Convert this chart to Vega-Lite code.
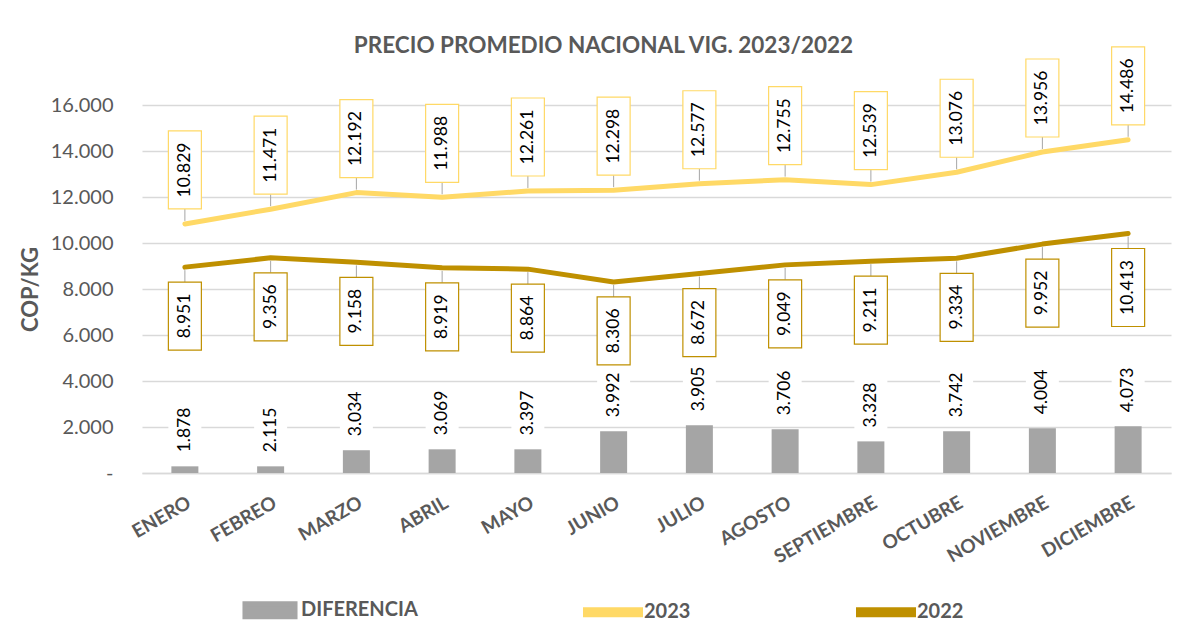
{
  "$schema": "https://vega.github.io/schema/vega-lite/v6.json",
  "autosize": {"type": "none"},
  "width": 1029,
  "height": 368,
  "padding": {"left": 142, "top": 105, "right": 23, "bottom": 151},
  "background": "white",
  "config": {
    "font": "Lato",
    "view": {"stroke": null},
    "locale": {"number": {"decimal": ",", "thousands": ".", "grouping": [3], "currency": ["$", ""]}}
  },
  "title": {
    "text": "PRECIO PROMEDIO NACIONAL VIG. 2023/2022",
    "font": "Lato",
    "fontSize": 22.5,
    "fontWeight": "bold",
    "color": "#595959",
    "anchor": "middle",
    "frame": "group",
    "dx": -53,
    "offset": -11
  },
  "data": {"values": [
    {"mes": "ENERO", "2023": 10829, "2022": 8951, "dif": 1878, "barra": 290},
    {"mes": "FEBREO", "2023": 11471, "2022": 9356, "dif": 2115, "barra": 290},
    {"mes": "MARZO", "2023": 12192, "2022": 9158, "dif": 3034, "barra": 990},
    {"mes": "ABRIL", "2023": 11988, "2022": 8919, "dif": 3069, "barra": 1030},
    {"mes": "MAYO", "2023": 12261, "2022": 8864, "dif": 3397, "barra": 1030},
    {"mes": "JUNIO", "2023": 12298, "2022": 8306, "dif": 3992, "barra": 1815},
    {"mes": "JULIO", "2023": 12577, "2022": 8672, "dif": 3905, "barra": 2075},
    {"mes": "AGOSTO", "2023": 12755, "2022": 9049, "dif": 3706, "barra": 1900},
    {"mes": "SEPTIEMBRE", "2023": 12539, "2022": 9211, "dif": 3328, "barra": 1375},
    {"mes": "OCTUBRE", "2023": 13076, "2022": 9334, "dif": 3742, "barra": 1815},
    {"mes": "NOVIEMBRE", "2023": 13956, "2022": 9952, "dif": 4004, "barra": 1945},
    {"mes": "DICIEMBRE", "2023": 14486, "2022": 10413, "dif": 4073, "barra": 2030}
  ]},
  "encoding": {
    "x": {
      "field": "mes", "type": "nominal", "sort": null,
      "scale": {"type": "band", "paddingInner": 0, "paddingOuter": 0},
      "axis": {
        "title": null,
        "labelAngle": -30,
        "labelAlign": "right",
        "labelBaseline": "top",
        "labelPadding": 20,
        "labelFont": "Lato",
        "labelFontSize": 19,
        "labelFontWeight": "bold",
        "labelColor": "#595959",
        "ticks": false,
        "domainColor": "#D9D9D9",
        "domainWidth": 1.5
      }
    }
  },
  "layer": [
    {
      "mark": {"type": "bar", "width": 27, "color": "#A5A5A5"},
      "encoding": {
        "y": {
          "field": "barra", "type": "quantitative",
          "scale": {"domain": [0, 16000], "nice": false},
          "axis": {
            "title": "COP/KG",
            "titleFont": "Lato",
            "titleFontSize": 22,
            "titleFontWeight": "bold",
            "titleColor": "#595959",
            "titlePadding": 8,
            "values": [0, 2000, 4000, 6000, 8000, 10000, 12000, 14000, 16000],
            "format": ",d",
            "labelExpr": "datum.value === 0 ? '-' : datum.label",
            "labelFont": "Lato",
            "labelFontSize": 20,
            "labelColor": "#595959",
            "labelPadding": 29,
            "ticks": false,
            "domain": false,
            "grid": true,
            "gridColor": "#D9D9D9",
            "gridWidth": 1.5
          }
        },
        "color": {"datum": "DIFERENCIA", "type": "nominal"}
      }
    },
    {
      "mark": {"type": "bar", "width": 33, "color": "white", "yOffset": -8, "y2Offset": -66},
      "encoding": {
        "y": {"field": "barra", "type": "quantitative"},
        "y2": {"field": "barra"}
      }
    },
    {
      "mark": {"type": "text", "angle": 270, "align": "left", "baseline": "middle", "yOffset": -14, "font": "Lato", "fontSize": 17.5, "color": "#000000"},
      "encoding": {
        "y": {"field": "barra", "type": "quantitative"},
        "text": {"field": "dif", "type": "quantitative", "format": ",d"}
      }
    },
    {
      "transform": [{"fold": ["2023", "2022"], "as": ["serie", "valor"]}],
      "mark": {"type": "line", "strokeWidth": 5, "strokeCap": "round", "strokeJoin": "round"},
      "encoding": {
        "y": {"field": "valor", "type": "quantitative"},
        "color": {
          "field": "serie", "type": "nominal",
          "scale": {"domain": ["DIFERENCIA", "2023", "2022"], "range": ["#A5A5A5", "#FFD966", "#BF9000"]},
          "legend": {
            "title": null,
            "orient": "none",
            "legendX": 98,
            "legendY": 475,
            "direction": "horizontal",
            "padding": 0,
            "symbolSize": 3025,
            "labelOffset": 1,
            "columnPadding": 157,
            "labelFont": "Lato",
            "labelFontSize": 20,
            "labelFontWeight": "bold",
            "labelColor": "#595959",
            "encode": {
              "symbols": {
                "update": {
                  "shape": {"signal": "datum.value === 'DIFERENCIA' ? 'M-0.91,-0.236H0.91V0.236H-0.91Z' : 'M-1,-0.09H1V0.09H-1Z'"},
                  "fill": {"signal": "datum.value === 'DIFERENCIA' ? '#A5A5A5' : (datum.value === '2023' ? '#FFD966' : '#BF9000')"},
                  "stroke": {"value": "transparent"},
                  "strokeWidth": {"value": 5},
                  "size": {"value": 3025},
                  "opacity": {"value": 1}
                }
              }
            }
          }
        }
      }
    },
    {
      "mark": {"type": "rule", "color": "#A6A6A6", "strokeWidth": 1, "yOffset": -3, "y2Offset": -15},
      "encoding": {
        "y": {"field": "2023", "type": "quantitative"},
        "y2": {"field": "2023"}
      }
    },
    {
      "mark": {"type": "rule", "color": "#A6A6A6", "strokeWidth": 1, "yOffset": 3, "y2Offset": 15},
      "encoding": {
        "y": {"field": "2022", "type": "quantitative"},
        "y2": {"field": "2022"}
      }
    },
    {
      "mark": {"type": "bar", "width": 33, "fill": "white", "stroke": "#FFD966", "strokeWidth": 1.2, "yOffset": -15, "y2Offset": -93},
      "encoding": {
        "y": {"field": "2023", "type": "quantitative"},
        "y2": {"field": "2023"}
      }
    },
    {
      "transform": [{"filter": "datum['2022'] < 10000"}],
      "mark": {"type": "bar", "width": 33, "fill": "white", "stroke": "#BF9000", "strokeWidth": 1.2, "yOffset": 15, "y2Offset": 83},
      "encoding": {
        "y": {"field": "2022", "type": "quantitative"},
        "y2": {"field": "2022"}
      }
    },
    {
      "transform": [{"filter": "datum['2022'] >= 10000"}],
      "mark": {"type": "bar", "width": 33, "fill": "white", "stroke": "#BF9000", "strokeWidth": 1.2, "yOffset": 15, "y2Offset": 93},
      "encoding": {
        "y": {"field": "2022", "type": "quantitative"},
        "y2": {"field": "2022"}
      }
    },
    {
      "mark": {"type": "text", "angle": 270, "align": "left", "baseline": "middle", "yOffset": -26.5, "font": "Lato", "fontSize": 17.5, "color": "#000000"},
      "encoding": {
        "y": {"field": "2023", "type": "quantitative"},
        "text": {"field": "2023", "type": "quantitative", "format": ",d"}
      }
    },
    {
      "mark": {"type": "text", "angle": 270, "align": "right", "baseline": "middle", "yOffset": 26.5, "font": "Lato", "fontSize": 17.5, "color": "#000000"},
      "encoding": {
        "y": {"field": "2022", "type": "quantitative"},
        "text": {"field": "2022", "type": "quantitative", "format": ",d"}
      }
    }
  ]
}
